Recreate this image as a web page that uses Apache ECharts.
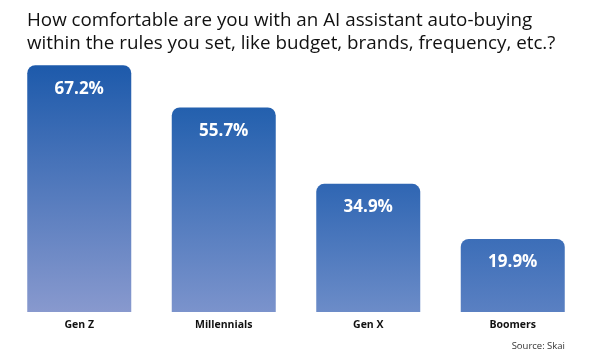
<!DOCTYPE html>
<html>
<head>
<meta charset="utf-8">
<script src="https://cdn.jsdelivr.net/npm/echarts@6/dist/echarts.min.js"></script>
<style>
html,body{margin:0;padding:0;background:#fff;}
#chart{width:601px;height:359px;}
</style>
</head>
<body>
<div id="chart"></div>
<script>
var categories = ['Gen Z', 'Millennials', 'Gen X', 'Boomers'];
var values = [67.2, 55.7, 34.9, 19.9];
var titleLines = ['How comfortable are you with an AI assistant auto-buying', 'within the rules you set, like budget, brands, frequency, etc.?'];
var sourceText = 'Source: Skai';

var topColors = ['#1d5aab', '#2360ae', '#2f66b3', '#3c6eb8'];
var bottomColors = ['#8899ce', '#7b93cc', '#6c8cc8', '#5a80c2'];

var chart = echarts.init(document.getElementById('chart'));
chart.setOption({
  backgroundColor: '#ffffff',
  animation: false,
  title: [{
    text: titleLines.join('\n'),
    left: 22,
    top: 4,
    textStyle: {
      fontFamily: 'Open Sans',
      fontWeight: 'normal',
      fontSize: 18.8,
      lineHeight: 23,
      color: '#111111'
    }
  }, {
    text: sourceText,
    right: 31,
    top: 336,
    textStyle: {
      fontFamily: 'Open Sans',
      fontWeight: 'normal',
      fontSize: 9.5,
      color: '#333333'
    }
  }],
  grid: { left: 7, right: 16, top: 55, bottom: 47, containLabel: false },
  xAxis: {
    type: 'category',
    data: categories,
    axisLine: { show: false },
    axisTick: { show: false },
    axisLabel: {
      margin: 8,
      fontFamily: 'Open Sans',
      fontWeight: 'bold',
      fontSize: 10.5,
      color: '#111111'
    }
  },
  yAxis: {
    type: 'value',
    min: 0,
    max: 70,
    show: false,
    splitLine: { show: false }
  },
  series: [{
    type: 'bar',
    barWidth: 104,
    data: values.map(function (v, i) {
      return {
        value: v,
        itemStyle: {
          borderRadius: [8, 8, 0, 0],
          color: new echarts.graphic.LinearGradient(0, 0, 0, 1, [
            { offset: 0, color: topColors[i] },
            { offset: 1, color: bottomColors[i] }
          ])
        }
      };
    }),
    label: {
      show: true,
      position: 'insideTop',
      distance: 15,
      formatter: function (p) { return p.value.toFixed(1) + '%'; },
      fontFamily: 'Open Sans',
      fontWeight: 'bold',
      fontSize: 17,
      color: '#ffffff'
    }
  }]
});
</script>
</body>
</html>
